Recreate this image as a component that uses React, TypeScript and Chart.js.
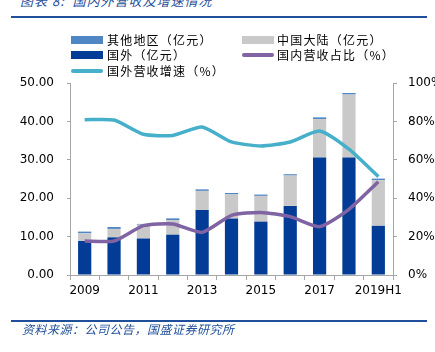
import React, { useEffect, useRef } from "react";
import { Chart, registerables } from "chart.js";

Chart.register(...registerables);

const categories = ["2009", "2010", "2011", "2012", "2013", "2014", "2015", "2016", "2017", "2018", "2019H1"];
const foreign = [8.85, 9.8, 9.5, 10.5, 16.9, 14.7, 13.9, 18.0, 30.6, 30.6, 12.8];
const mainland = [2.0, 2.2, 3.6, 3.8, 5.0, 6.3, 6.7, 7.9, 10.0, 16.4, 11.9];
const others = [0.45, 0.5, 0.2, 0.45, 0.4, 0.35, 0.35, 0.35, 0.45, 0.4, 0.4];
const domesticShare = [17.7, 17.7, 25.7, 26.6, 22.2, 31.1, 32.6, 30.4, 25.2, 34.2, 48.6];
const foreignGrowth = [80.9, 80.7, 73.3, 72.7, 77.1, 69.3, 67.2, 69.3, 75.0, 65.5, 51.2];
const leftTicks = [0, 10, 20, 30, 40, 50];
const rightTicks = [0, 20, 40, 60, 80, 100];

const DARK = "#033C96";
const GRAY = "#C9C9C9";
const LIGHT = "#4F86C6";
const TEAL = "#46AFC9";
const PURPLE = "#7F63A3";
const BLUE_TXT = "#1F4E9A";
const CJK = '"Noto Sans CJK SC", sans-serif';

export default function App() {
  const ref = useRef<HTMLCanvasElement | null>(null);
  useEffect(() => {
    if (!ref.current) return;
    const tickFont = { family: '"DejaVu Sans", sans-serif', size: 12 };
    const chart = new Chart(ref.current, {
      data: {
        labels: categories,
        datasets: [
          { type: "line", label: "国内营收占比（%）", data: domesticShare, yAxisID: "y1", borderColor: PURPLE, backgroundColor: PURPLE, borderWidth: 3.5, pointRadius: 0, tension: 0.2, order: 0 },
          { type: "line", label: "国外营收增速（%）", data: foreignGrowth, yAxisID: "y1", borderColor: TEAL, backgroundColor: TEAL, borderWidth: 3.5, pointRadius: 0, tension: 0.2, order: 0 },
          { type: "bar", label: "国外（亿元）", data: foreign, yAxisID: "y", backgroundColor: DARK, stack: "s", barPercentage: 0.45, categoryPercentage: 1, order: 1 },
          { type: "bar", label: "中国大陆（亿元）", data: mainland, yAxisID: "y", backgroundColor: GRAY, stack: "s", barPercentage: 0.45, categoryPercentage: 1, order: 1 },
          { type: "bar", label: "其他地区（亿元）", data: others, yAxisID: "y", backgroundColor: LIGHT, stack: "s", barPercentage: 0.45, categoryPercentage: 1, order: 1 },
        ],
      } as any,
      options: {
        animation: false,
        responsive: false,
        maintainAspectRatio: false,
        layout: { padding: { top: 83, left: 0, right: 0, bottom: 0 } },
        plugins: { legend: { display: false }, tooltip: { enabled: false }, title: { display: false } },
        scales: {
          x: {
            stacked: true,
            offset: true,
            grid: { display: true, drawOnChartArea: false, offset: true, tickLength: 5, color: "#A6A6A6" },
            border: { color: "#A6A6A6" },
            ticks: {
              autoSkip: false,
              maxRotation: 0,
              padding: 4,
              color: "#000",
              font: tickFont,
              callback: (_v: any, i: number) => (i % 2 === 0 ? categories[i] : ""),
            },
            afterFit: (s: any) => { s.height = 77; },
          },
          y: {
            stacked: true,
            position: "left",
            min: 0,
            max: 50,
            afterBuildTicks: (s: any) => { s.ticks = leftTicks.map((v) => ({ value: v })); },
            grid: { display: true, drawOnChartArea: false, tickLength: 3, color: "#A6A6A6" },
            border: { color: "#A6A6A6" },
            ticks: { color: "#000", font: tickFont, padding: 13, callback: (v: any) => Number(v).toFixed(2) },
            afterFit: (s: any) => { s.width = 70; },
          },
          y1: {
            position: "right",
            min: 0,
            max: 100,
            afterBuildTicks: (s: any) => { s.ticks = rightTicks.map((v) => ({ value: v })); },
            grid: { display: true, drawOnChartArea: false, tickLength: 4, color: "#A6A6A6" },
            border: { color: "#A6A6A6" },
            ticks: { color: "#000", font: tickFont, padding: 11, callback: (v: any) => v + "%" },
            afterFit: (s: any) => { s.width = 42; },
          },
        },
      } as any,
    });
    return () => chart.destroy();
  }, []);

  const legendText: React.CSSProperties = { position: "absolute", fontFamily: CJK, fontSize: 12, color: "#000", lineHeight: "14px", whiteSpace: "nowrap", letterSpacing: 1.2 };
  const box = (x: number, y: number, color: string) => (
    <div style={{ position: "absolute", left: x, top: y - 4, width: 32, height: 8, background: color }} />
  );
  const line = (x: number, y: number, color: string) => (
    <div style={{ position: "absolute", left: x, top: y - 2, width: 32, height: 4, borderRadius: 2, background: color }} />
  );

  return (
    <div style={{ position: "fixed", left: 0, top: 0, width: 435, height: 352, background: "#fff", overflow: "hidden" }}>
      <div style={{ position: "absolute", left: 20, top: -7, fontFamily: CJK, fontStyle: "italic", fontSize: 13, color: BLUE_TXT, whiteSpace: "nowrap", lineHeight: "16px", letterSpacing: 1 }}>
        图表 8:&nbsp;&nbsp;国内外营收及增速情况
      </div>
      <div style={{ position: "absolute", left: 11, top: 16, width: 416, height: 2, background: BLUE_TXT }} />
      <canvas ref={ref} width={435} height={352} style={{ position: "absolute", left: 0, top: 0, width: 435, height: 352 }} />
      {box(71, 40, LIGHT)}
      <div style={{ ...legendText, left: 107, top: 33 }}>其他地区（亿元）</div>
      {box(242, 40, GRAY)}
      <div style={{ ...legendText, left: 277, top: 33 }}>中国大陆（亿元）</div>
      {box(71, 55, DARK)}
      <div style={{ ...legendText, left: 107, top: 48 }}>国外（亿元）</div>
      {line(242, 55, PURPLE)}
      <div style={{ ...legendText, left: 277, top: 48 }}>国内营收占比（%）</div>
      {line(71, 71, TEAL)}
      <div style={{ ...legendText, left: 107, top: 64 }}>国外营收增速（%）</div>
      <div style={{ position: "absolute", left: 11, top: 320, width: 416, height: 2, background: BLUE_TXT }} />
      <div style={{ position: "absolute", left: 22, top: 322, fontFamily: CJK, fontStyle: "italic", fontSize: 12, color: BLUE_TXT, whiteSpace: "nowrap", lineHeight: "14px", letterSpacing: 0.5 }}>
        资料来源：公司公告，国盛证券研究所
      </div>
    </div>
  );
}
